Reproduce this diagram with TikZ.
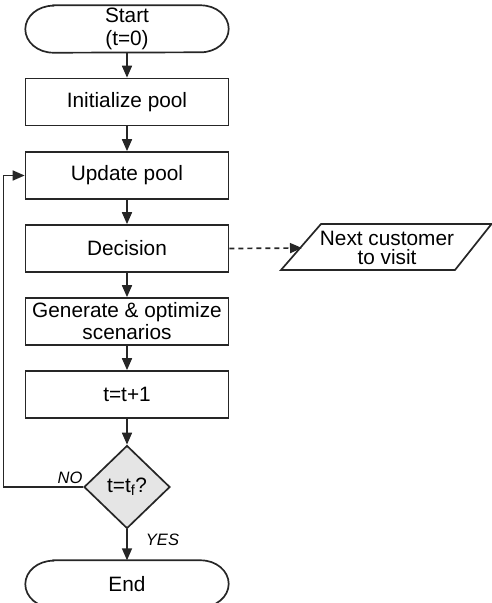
\documentclass[tikz,border=0pt]{standalone}
\usepackage{fontspec}
\setmainfont{Liberation Sans}
\usetikzlibrary{shapes.geometric,arrows.meta}
\begin{document}
\begin{tikzpicture}[x=1pt,y=-1pt,
  box/.style={draw=black!85,line width=1.7pt},
  proc/.style={box,rectangle,minimum width=203pt,minimum height=47pt,inner sep=0pt,align=center,font=\fontsize{20.8}{22}\selectfont},
  term/.style={rectangle,minimum width=203pt,minimum height=47pt,inner sep=0pt,align=center,font=\fontsize{20.8}{23.5}\selectfont},
  arr/.style={draw=black!85,line width=1.7pt,-{Triangle[length=12pt,width=10pt]}},
  lab/.style={font=\fontsize{16.5}{18}\selectfont\itshape}]
\useasboundingbox (0,0) rectangle (492,603);
\begin{scope}
\clip (0,0) rectangle (492,603);
% terminals
\node[term] (start) at (127,29) {Start\\(t=0)};
\draw[box] ([xshift=28pt]start.north west) -- ([xshift=-28pt]start.north east)
  arc[start angle=90,end angle=-90,x radius=28pt,y radius=23.5pt]
  -- ([xshift=28pt]start.south west)
  arc[start angle=270,end angle=90,x radius=28pt,y radius=23.5pt] -- cycle;
\node[term] (end) at (127,584) {End};
\draw[box] ([xshift=28pt]end.north west) -- ([xshift=-28pt]end.north east)
  arc[start angle=90,end angle=-90,x radius=28pt,y radius=23.5pt]
  -- ([xshift=28pt]end.south west)
  arc[start angle=270,end angle=90,x radius=28pt,y radius=23.5pt] -- cycle;
\end{scope}
% processes
\node[proc] (init) at (127,102) {Initialize pool};
\node[proc] (upd) at (127,175.5) {Update pool};
\node[proc] (dec) at (127,248.5) {Decision};
\node[proc] (gen) at (127,321.5) {Generate \& optimize\\scenarios};
\node[proc] (inc) at (127,394.5) {t=t+1};
\node[box,diamond,fill=black!10,minimum width=86pt,minimum height=83pt,inner sep=0pt,
  font=\fontsize{20.8}{22}\selectfont] (dia) at (127,487) {t=t$_\mathrm{f}$?};
% output parallelogram
\draw[box] (281,270) -- (321,224) -- (491.5,224) -- (455,270) -- cycle;
\node[align=center,font=\fontsize{20.8}{19}\selectfont,inner sep=0pt] (next) at (387,248) {Next customer\\to visit};
\coordinate (nextin) at (302,248);
% connectors
\draw[arr] (start) -- (init);
\draw[arr] (init) -- (upd);
\draw[arr] (upd) -- (dec);
\draw[arr] (dec) -- (gen);
\draw[arr] (gen) -- (inc);
\draw[arr] (inc) -- (dia);
\draw[arr] (dia) -- (end.north);
\draw[arr] (dia.west) -- (3.5,487) |- (upd.west);
\draw[arr,dash pattern=on 5pt off 4pt] (dec.east) -- (nextin);
% labels
\node[lab] (no) at (70,478) {NO};
\node[lab] (yes) at (162.5,540) {YES};
\end{tikzpicture}
\end{document}
